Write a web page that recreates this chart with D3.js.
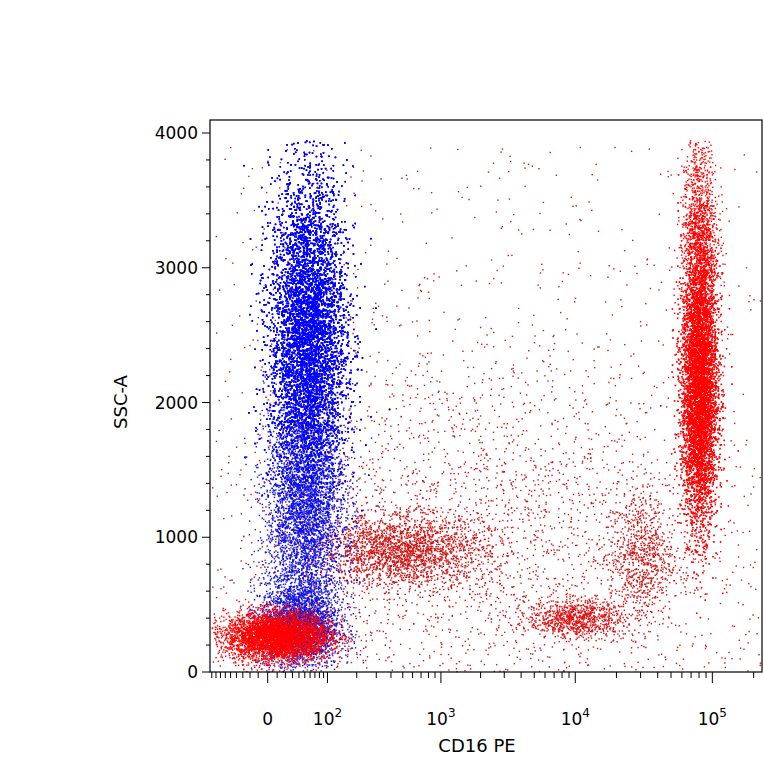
<!DOCTYPE html>
<html><head><meta charset="utf-8">
<script src="https://cdn.jsdelivr.net/npm/d3@7"></script>
<style>body{margin:0;background:#fff}text{font-family:"DejaVu Sans",sans-serif}</style>
</head><body>
<svg id="chart" width="764" height="764"></svg>
<script>
// populations: [cx (CD16 PE), cy (SSC-A), sdX (px in axis space), sdY, count, colour]
var popNames = ["blue granulocytes", "blue tail", "blue low", "red debris", "red NK", "red NK top", "red mid", "red low mid", "red diagonal", "red scatter", "red uniform"];
var popCx = [55, 50, 40, 10, 80000, 80000, 500, 10000, 30000, 2000, 0];
var popCy = [2500, 1200, 350, 270, 2100, 3200, 900, 400, 850, 1100, 0];
var popSdX = [19, 20, 20, 26, 9, 9, 42, 24, 16, 120, 0];
var popSdY = [600, 450, 160, 90, 500, 400, 130, 70, 260, 700, 0];
var popCount = [20000, 4000, 2500, 4500, 10000, 1500, 2200, 900, 800, 2200, 900];
var popColor = ["#0000ff", "#1010e8", "#1010e0", "#ff0000", "#ff0000", "#ff0000", "#d01010", "#e01010", "#d01010", "#c81818", "#c81818"];
var xTickVals = [0, 100, 1000, 10000, 100000];
var xTickExp = ["", "2", "3", "4", "5"];
var yTickVals = [0, 1000, 2000, 3000, 4000];

var svg = d3.select("#chart");
var L = 211, R = 762, T = 120, B = 672;

var x = d3.scaleSymlog().constant(58).domain([-92, 230000]).range([L, R]);
var y = d3.scaleLinear().domain([0, 4000]).range([B, 133]);

// seeded generator so the picture is repeatable
var seed = 12345;
function rnd() { seed = (seed * 1103515245 + 12345) % 2147483648; return seed / 2147483648; }
function gauss() { var u = rnd() || 1e-9, v = rnd(); return Math.sqrt(-2 * Math.log(u)) * Math.cos(2 * Math.PI * v); }

var points = [];
var order = [10, 9, 6, 7, 8, 4, 5, 0, 1, 2, 3];
order.forEach(function(p) {
  var px0 = x(popCx[p]);
  for (var i = 0; i < popCount[p]; i++) {
    var px = px0 + gauss() * popSdX[p];
    var vy = popCy[p] + gauss() * popSdY[p];
    if (p == 10) { px = L + rnd() * (R - L); vy = Math.pow(rnd(), 1.4) * 3900; }
    var vx = x.invert(px);
    if (vy < 5 || vy > 3950 || px < L || px > R - 2) continue;
    points.push([vx, vy, popColor[p]]);
  }
});

var g = svg.append("g");
g.selectAll("rect").data(points).enter().append("rect")
  .attr("x", function(d) { return x(d[0]); })
  .attr("y", function(d) { return y(d[1]); })
  .attr("width", 1.4).attr("height", 1.4)
  .attr("fill", function(d) { return d[2]; });

svg.append("rect").attr("x", L - 1).attr("y", T).attr("width", R - L + 1).attr("height", B - T)
  .attr("fill", "none").attr("stroke", "#000").attr("stroke-width", 1.2);

// y axis
var yMinor = d3.range(0, 4001, 200);
svg.selectAll(".ym").data(yMinor).enter().append("line")
  .attr("x1", L - 1).attr("x2", function(d) { return d % 1000 ? L - 5 : L - 9; })
  .attr("y1", function(d) { return y(d); }).attr("y2", function(d) { return y(d); })
  .attr("stroke", "#000");
svg.selectAll(".yl").data(yTickVals).enter().append("text")
  .attr("x", L - 13).attr("y", function(d) { return y(d) + 6; })
  .attr("text-anchor", "end").attr("font-size", 17).text(function(d) { return d; });

// x axis ticks
var xMinor = [-90, -80, -70, -60, -50, -40, -30, -20, -10, 0, 10, 20, 30, 40, 50, 60, 70, 80, 90];
[100, 1000, 10000, 100000].forEach(function(dec) {
  for (var k = 1; k < 10; k++) if (dec * k < 230000) xMinor.push(dec * k);
});
svg.selectAll(".xm").data(xMinor).enter().append("line")
  .attr("x1", function(d) { return x(d); }).attr("x2", function(d) { return x(d); })
  .attr("y1", B).attr("y2", function(d) { return xTickVals.indexOf(d) >= 0 ? B + 11 : B + 6; })
  .attr("stroke", "#000");
var xl = svg.selectAll(".xl").data(xTickVals).enter().append("text")
  .attr("x", function(d) { return x(d); }).attr("y", B + 53)
  .attr("text-anchor", "middle").attr("font-size", 17);
xl.each(function(d, i) {
  var t = d3.select(this);
  if (d === 0) { t.text("0"); return; }
  t.append("tspan").text("10");
  t.append("tspan").attr("dy", -8).attr("font-size", 12).text(xTickExp[i]);
});

svg.append("text").attr("x", 477).attr("y", 752).attr("text-anchor", "middle")
  .attr("font-size", 18).text("CD16 PE");
svg.append("text").attr("transform", "translate(127,402) rotate(-90)")
  .attr("text-anchor", "middle").attr("font-size", 18).text("SSC-A");
</script>
</body></html>
